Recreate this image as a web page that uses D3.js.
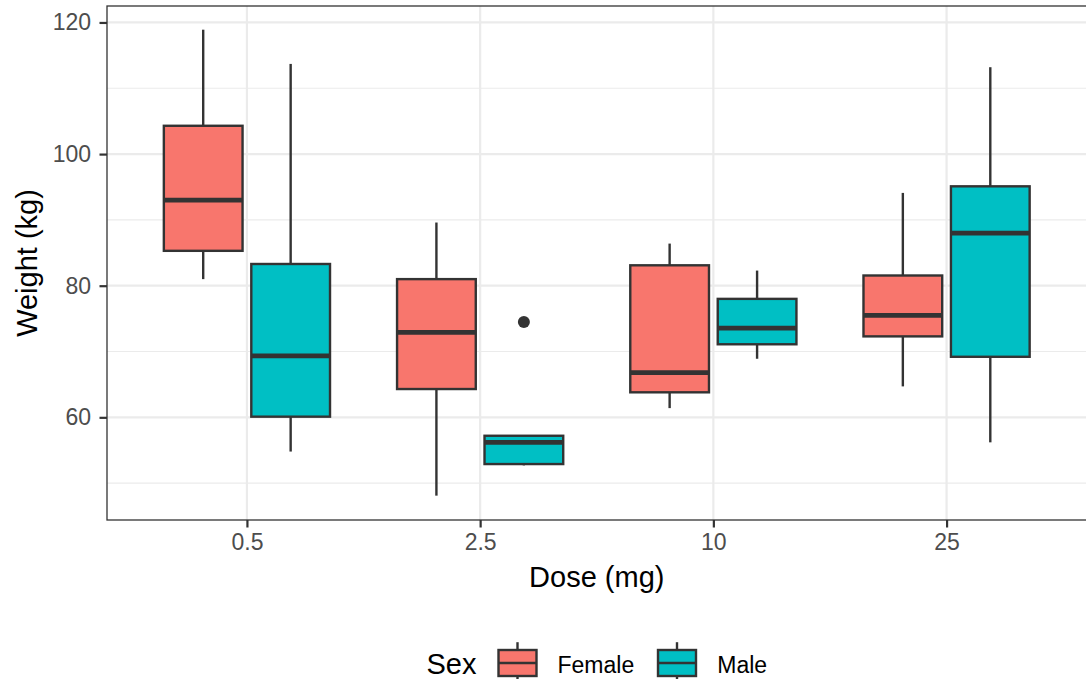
<!DOCTYPE html>
<html>
<head>
<meta charset="utf-8">
<script src="https://cdn.jsdelivr.net/npm/d3@7"></script>
<style>
  html, body { margin: 0; padding: 0; background: #fff; }
  svg { display: block; font-family: "Liberation Sans", Arial, Helvetica, sans-serif; }
</style>
</head>
<body>
<svg id="chart" width="1086" height="679"></svg>
<script>
// Dose groups and sex groups
const doses = ["0.5", "2.5", "10", "25"];
const sexes = ["Female", "Male"];
const sexColors = ["#F8766D", "#00BFC4"];

// Box statistics per dose (same order as doses), one set per sex
const femaleLower  = [81.0, 48.1, 61.4, 64.7];
const femaleQ1     = [85.3, 64.3, 63.8, 72.3];
const femaleMedian = [93.0, 72.9, 66.8, 75.5];
const femaleQ3     = [104.3, 81.0, 83.1, 81.55];
const femaleUpper  = [118.9, 89.6, 86.4, 94.1];
const femaleOutliers = [[], [], [], []];

const maleLower  = [54.8, 52.7, 68.9, 56.2];
const maleQ1     = [60.1, 52.9, 71.1, 69.2];
const maleMedian = [69.35, 56.2, 73.55, 88.0];
const maleQ3     = [83.3, 57.2, 78.0, 95.1];
const maleUpper  = [113.7, 57.2, 82.3, 113.2];
const maleOutliers = [[], [74.5], [], []];

// Axis ticks
const yMajorTicks = [60, 80, 100, 120];
const yMinorTicks = [50, 70, 90, 110];

const groups = [];
doses.forEach((d, i) => {
  groups.push({ dose: d, sex: "Female", lower: femaleLower[i], q1: femaleQ1[i], median: femaleMedian[i], q3: femaleQ3[i], upper: femaleUpper[i], outliers: femaleOutliers[i] });
  groups.push({ dose: d, sex: "Male", lower: maleLower[i], q1: maleQ1[i], median: maleMedian[i], q3: maleQ3[i], upper: maleUpper[i], outliers: maleOutliers[i] });
});

const svg = d3.select("#chart");
const panel = { left: 107, top: 6, right: 1086.5, bottom: 520 };

const x = d3.scalePoint().domain(doses).range([panel.left, panel.right]).padding(0.6);
const step = x.step();
const xSex = d3.scaleBand().domain(sexes).range([-0.375 * step, 0.375 * step]);
const boxW = xSex.bandwidth() * 0.9;
const y = d3.scaleLinear().domain([44.4, 122.5]).range([panel.bottom, panel.top]);
const color = d3.scaleOrdinal().domain(sexes).range(sexColors);

const ink = "#333333";

// Panel grid
const grid = svg.append("g");
grid.selectAll(".minor").data(yMinorTicks).join("line")
  .attr("x1", panel.left).attr("x2", panel.right)
  .attr("y1", d => y(d)).attr("y2", d => y(d))
  .attr("stroke", "#EBEBEB").attr("stroke-width", 1.1);
grid.selectAll(".major").data(yMajorTicks).join("line")
  .attr("x1", panel.left).attr("x2", panel.right)
  .attr("y1", d => y(d)).attr("y2", d => y(d))
  .attr("stroke", "#EBEBEB").attr("stroke-width", 2.2);
grid.selectAll(".vmajor").data(doses).join("line")
  .attr("x1", d => x(d)).attr("x2", d => x(d))
  .attr("y1", panel.top).attr("y2", panel.bottom)
  .attr("stroke", "#EBEBEB").attr("stroke-width", 2.2);

// Boxplots
const boxes = svg.append("g").selectAll("g").data(groups).join("g")
  .attr("transform", d => `translate(${x(d.dose) + xSex(d.sex) + xSex.bandwidth() / 2},0)`);

boxes.append("line")
  .attr("x1", 0).attr("x2", 0)
  .attr("y1", d => y(d.upper)).attr("y2", d => y(d.q3))
  .attr("stroke", ink).attr("stroke-width", 2.4);
boxes.append("line")
  .attr("x1", 0).attr("x2", 0)
  .attr("y1", d => y(d.q1)).attr("y2", d => y(d.lower))
  .attr("stroke", ink).attr("stroke-width", 2.4);
boxes.append("rect")
  .attr("x", -boxW / 2).attr("width", boxW)
  .attr("y", d => y(d.q3)).attr("height", d => y(d.q1) - y(d.q3))
  .attr("fill", d => color(d.sex))
  .attr("stroke", ink).attr("stroke-width", 2.4);
boxes.append("line")
  .attr("x1", -boxW / 2).attr("x2", boxW / 2)
  .attr("y1", d => y(d.median)).attr("y2", d => y(d.median))
  .attr("stroke", ink).attr("stroke-width", 4.8);
boxes.selectAll("circle").data(d => d.outliers).join("circle")
  .attr("cx", 0).attr("cy", v => y(v)).attr("r", 6)
  .attr("fill", ink);

// Panel border (right edge falls just outside the canvas)
svg.append("rect")
  .attr("x", panel.left).attr("y", panel.top)
  .attr("width", panel.right + 2 - panel.left).attr("height", panel.bottom - panel.top)
  .attr("fill", "none").attr("stroke", ink).attr("stroke-width", 1.3);

// Y axis
const yAxis = svg.append("g")
  .attr("transform", `translate(${panel.left},0)`)
  .call(d3.axisLeft(y).tickValues(yMajorTicks).tickSize(7.5).tickPadding(8.5).tickFormat(d3.format("d")));
yAxis.select(".domain").remove();
yAxis.selectAll(".tick line").attr("stroke", ink).attr("stroke-width", 2.2);
yAxis.selectAll(".tick text").attr("fill", "#4D4D4D").attr("font-size", 23)
  .attr("font-family", "Liberation Sans, Arial, sans-serif");

// X axis
const xAxis = svg.append("g")
  .attr("transform", `translate(0,${panel.bottom})`)
  .call(d3.axisBottom(x).tickSize(7.5).tickPadding(6));
xAxis.select(".domain").remove();
xAxis.selectAll(".tick line").attr("stroke", ink).attr("stroke-width", 2.2);
xAxis.selectAll(".tick text").attr("fill", "#4D4D4D").attr("font-size", 23)
  .attr("font-family", "Liberation Sans, Arial, sans-serif");

// Axis titles
svg.append("text")
  .attr("x", (panel.left + panel.right) / 2).attr("y", 587)
  .attr("text-anchor", "middle").attr("font-size", 29).attr("fill", "#000")
  .text("Dose (mg)");
svg.append("text")
  .attr("transform", `translate(37,${(panel.top + panel.bottom) / 2}) rotate(-90)`)
  .attr("text-anchor", "middle").attr("font-size", 29).attr("fill", "#000")
  .text("Weight (kg)");

// Legend
const legend = svg.append("g");
legend.append("text")
  .attr("x", 426.5).attr("y", 673.5)
  .attr("font-size", 29).attr("fill", "#000")
  .text("Sex");

const keyCenters = [517.5, 677];
const labelX = [557.5, 717.3];
const keyH = 52, keyTop = 637, keyBoxW = 38;
const keys = legend.selectAll(".key").data(sexes).join("g")
  .attr("transform", (d, i) => `translate(${keyCenters[i]},${keyTop})`);
keys.append("line").attr("x1", 0).attr("x2", 0)
  .attr("y1", keyH * 0.1).attr("y2", keyH * 0.25)
  .attr("stroke", ink).attr("stroke-width", 2.4);
keys.append("line").attr("x1", 0).attr("x2", 0)
  .attr("y1", keyH * 0.75).attr("y2", keyH * 0.9)
  .attr("stroke", ink).attr("stroke-width", 2.4);
keys.append("rect")
  .attr("x", -keyBoxW / 2).attr("width", keyBoxW)
  .attr("y", keyH * 0.25).attr("height", keyH * 0.5)
  .attr("fill", d => color(d)).attr("stroke", ink).attr("stroke-width", 2.4);
keys.append("line")
  .attr("x1", -keyBoxW / 2).attr("x2", keyBoxW / 2)
  .attr("y1", keyH * 0.5).attr("y2", keyH * 0.5)
  .attr("stroke", ink).attr("stroke-width", 2.4);
legend.selectAll(".lab").data(sexes).join("text")
  .attr("x", (d, i) => labelX[i]).attr("y", 672.5)
  .attr("font-size", 23).attr("fill", "#000")
  .text(d => d);
</script>
</body>
</html>
